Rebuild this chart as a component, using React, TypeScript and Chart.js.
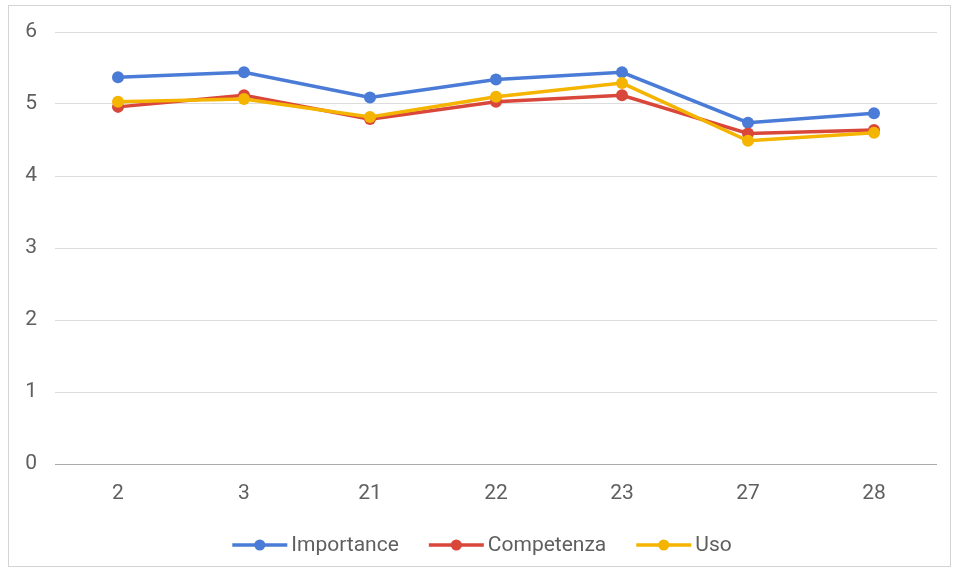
import React, { useEffect, useRef } from "react";
import { Chart, registerables } from "chart.js";

Chart.register(...registerables);

const categories = ["2", "3", "21", "22", "23", "27", "28"];
const importance = [5.37, 5.44, 5.09, 5.34, 5.44, 4.74, 4.87];
const competenza = [4.96, 5.12, 4.79, 5.03, 5.12, 4.59, 4.64];
const uso = [5.03, 5.07, 4.82, 5.1, 5.29, 4.49, 4.6];
const seriesNames = ["Importance", "Competenza", "Uso"];
const seriesColors = ["#4a7bd6", "#d9473a", "#f4b400"];

const FONT = "Roboto, 'Liberation Sans', Arial, sans-serif";

const frameAndLegend = {
  id: "frameAndLegend",
  beforeDraw(chart: any) {
    const ctx = chart.ctx;
    ctx.save();
    ctx.fillStyle = "#ffffff";
    ctx.fillRect(0, 0, chart.width, chart.height);
    ctx.strokeStyle = "#d4d4d4";
    ctx.lineWidth = 1;
    ctx.strokeRect(8.5, 5.5, 942, 561);
    ctx.restore();
  },
  afterDraw(chart: any) {
    const ctx = chart.ctx;
    ctx.save();
    ctx.font = `21px ${FONT}`;
    const lineW = 55;
    const gapText = 4;
    const gapItem = 30;
    const widths = seriesNames.map((n) => ctx.measureText(n).width);
    const total =
      widths.reduce((a, w) => a + lineW + gapText + w, 0) + gapItem * (seriesNames.length - 1);
    let x = 482 - total / 2;
    const y = 545;
    seriesNames.forEach((name, i) => {
      ctx.strokeStyle = seriesColors[i];
      ctx.lineWidth = 3.5;
      ctx.beginPath();
      ctx.moveTo(x, y);
      ctx.lineTo(x + lineW, y);
      ctx.stroke();
      ctx.fillStyle = seriesColors[i];
      ctx.beginPath();
      ctx.arc(x + lineW / 2, y, 5.5, 0, Math.PI * 2);
      ctx.fill();
      ctx.fillStyle = "#5f5f5f";
      ctx.textBaseline = "middle";
      ctx.textAlign = "left";
      ctx.fillText(name, x + lineW + gapText, y + 1);
      x += lineW + gapText + widths[i] + gapItem;
    });
    ctx.restore();
  },
};

export default function App() {
  const ref = useRef<HTMLCanvasElement>(null);
  useEffect(() => {
    if (!ref.current) return;
    const data = [importance, competenza, uso];
    const chart = new Chart(ref.current, {
      type: "line",
      data: {
        labels: categories,
        datasets: seriesNames.map((name, i) => ({
          label: name,
          data: data[i],
          borderColor: seriesColors[i],
          backgroundColor: seriesColors[i],
          borderWidth: 3.5,
          pointRadius: 6,
          pointBorderWidth: 0,
          pointBackgroundColor: seriesColors[i],
          tension: 0,
          order: 2 - i,
        })),
      },
      options: {
        responsive: false,
        animation: false,
        layout: { padding: { top: 32, right: 23, left: 0, bottom: 0 } },
        plugins: {
          legend: { display: false },
          tooltip: { enabled: false },
        },
        scales: {
          x: {
            offset: true,
            grid: { display: false, drawTicks: false },
            border: { display: false },
            ticks: { color: "#5f5f5f", font: { family: FONT, size: 21 }, padding: 17 },
            afterFit: (s: any) => {
              s.height = 111;
            },
          },
          y: {
            min: 0,
            max: 6,
            ticks: { stepSize: 1, color: "#5f5f5f", font: { family: FONT, size: 21 }, padding: 18 },
            grid: {
              drawTicks: false,
              color: (c: any) => (c.tick && c.tick.value === 0 ? "#aaaaaa" : "#dcdcdc"),
              lineWidth: 1,
            },
            border: { display: false },
            afterFit: (s: any) => {
              s.width = 55;
            },
          },
        },
      },
      plugins: [frameAndLegend],
    });
    return () => chart.destroy();
  }, []);
  return (
    <div style={{ position: "fixed", left: 0, top: 0, width: 960, height: 575, background: "#fff" }}>
      <canvas ref={ref} width={960} height={575} style={{ display: "block" }} />
    </div>
  );
}
